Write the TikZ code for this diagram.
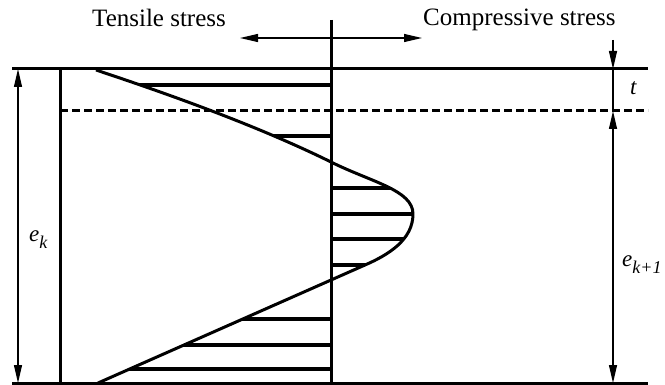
\documentclass[tikz,border=0pt]{standalone}
\usepackage{fontspec}
\setmainfont{Liberation Serif}
\usetikzlibrary{arrows.meta}
\tikzset{
  heavy/.style={line width=3pt, line cap=butt},
  dimline/.style={line width=1.2pt},
  dimarr/.style={dimline, -{Triangle[length=18pt,width=8pt]}},
  dimboth/.style={dimline, {Triangle[length=18pt,width=8pt]}-{Triangle[length=18pt,width=8pt]}},
  hatch/.style={line width=3.2pt},
  dashline/.style={line width=3pt, dash pattern=on 8pt off 4pt},
  lbl/.style={font=\fontsize{25}{30}\selectfont, inner sep=0pt, anchor=base west},
  sym/.style={font=\fontsize{23}{28}\selectfont\itshape, inner sep=0pt, anchor=base west},
}
\newcommand{\lowsub}[1]{\raisebox{-0.28em}{\fontsize{18}{20}\selectfont #1}}
% stress profile over the depth of the section
\newcommand{\stressprofile}{(96,70) .. controls (150,88) and (250,122) .. (331,162)
  .. controls (371,182) and (413,190) .. (413,214)
  .. controls (413,240) and (388,255) .. (365,265) -- (98,383)}

\begin{document}
\begin{tikzpicture}[x=1pt,y=-1pt]
  \useasboundingbox (0,0) rectangle (665,385);

  % hatching between profile and axis
  \begin{scope}
    \clip \stressprofile -- (331,383) -- (331,70) -- cycle;
    \foreach \y in {85,136,188,214,239,265,319,345,369}
      \draw[hatch] (60,\y) -- (450,\y);
  \end{scope}
  \draw[heavy, line join=round] \stressprofile;

  % frame of the section
  \draw[heavy] (12,69) -- (648,69);
  \draw[heavy] (12,383) -- (648,383);
  \draw[heavy] (60,69) -- (60,383);
  \draw[dashline] (60,111) -- (648,111);
  \draw[heavy] (331,20) -- (331,383);

  % sign of the stress
  \node[lbl] (tens) at (92,27) {Tensile stress};
  \node[lbl] (comp) at (423,26) {Compressive stress};
  \coordinate (sl) at (240,38);
  \coordinate (sr) at (422,38);
  \draw[dimboth] (sl) -- (sr);

  % dimensions
  \coordinate (ltop) at (18,69);
  \coordinate (lbot) at (18,383);
  \draw[dimboth] (ltop) -- (lbot);
  \node[sym] (ek) at (29,242) {e\lowsub{k}};

  \coordinate (r0) at (613,40);
  \coordinate (r1) at (613,69);
  \coordinate (r2) at (613,111);
  \coordinate (r3) at (613,383);
  \draw[dimarr] (r0) -- (r1);
  \draw[dimline] (r1) -- (r2);
  \draw[dimboth] (r2) -- (r3);
  \node[sym] (tt) at (630,95) {t};
  \node[sym] (ek1) at (622,267) {e\lowsub{k+1}};
\end{tikzpicture}
\end{document}
